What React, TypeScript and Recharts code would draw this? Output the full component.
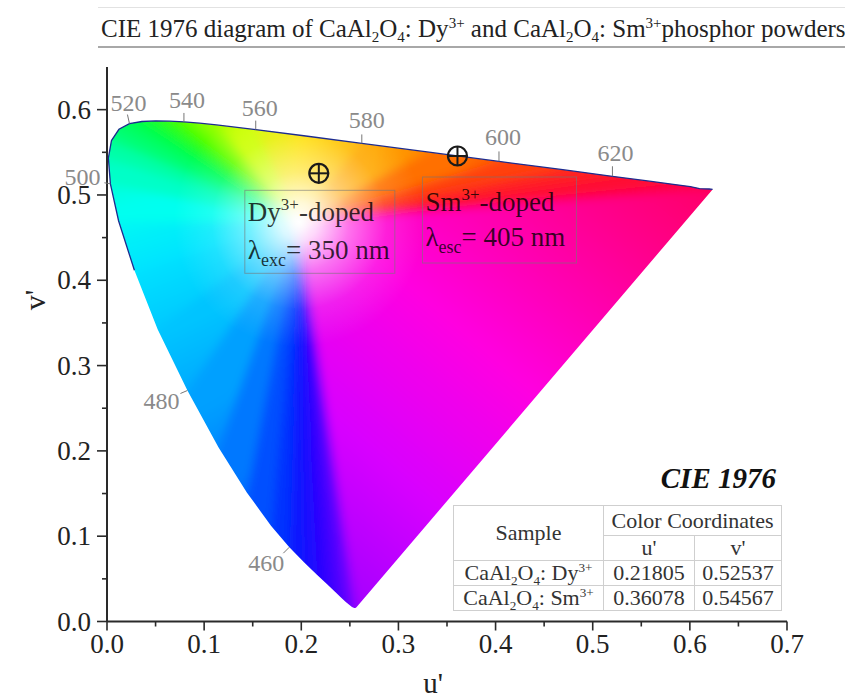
import React from 'react'
import { ScatterChart, Scatter, XAxis, YAxis } from 'recharts'

// CIE 1976 spectral locus (u', v') read along the diagram edge
const WAVELENGTHS = [380, 400, 410, 420, 430, 435, 440, 445, 450, 455, 460, 465, 470, 475, 480, 485, 490, 495, 500, 505, 510, 515, 520, 525, 530, 535, 540, 545, 550, 560, 570, 580, 590, 600, 610, 620, 630, 640, 650, 660, 680, 700]
const U_PRIME = [0.2568, 0.2557, 0.2545, 0.2522, 0.2461, 0.2411, 0.2347, 0.2266, 0.2161, 0.2033, 0.1877, 0.169, 0.1441, 0.1147, 0.0828, 0.0521, 0.0282, 0.0119, 0.0035, 0.0014, 0.0046, 0.0123, 0.0231, 0.036, 0.0501, 0.0643, 0.0792, 0.0953, 0.1127, 0.1531, 0.2026, 0.2623, 0.3315, 0.4035, 0.4692, 0.5203, 0.5565, 0.583, 0.6005, 0.6099, 0.6199, 0.6234]
const V_PRIME = [0.0166, 0.0159, 0.0159, 0.0169, 0.0226, 0.0279, 0.035, 0.0437, 0.0549, 0.0688, 0.0871, 0.1119, 0.151, 0.2044, 0.2708, 0.3427, 0.4117, 0.4698, 0.5131, 0.5432, 0.5638, 0.577, 0.5837, 0.5861, 0.5868, 0.5865, 0.5856, 0.5841, 0.5821, 0.5766, 0.5694, 0.5604, 0.5501, 0.5393, 0.5296, 0.5219, 0.5165, 0.5125, 0.5099, 0.5075, 0.507, 0.5065]
const WHITE_POINT = { u: 0.1978, v: 0.4683 }
const LABELLED = [460, 480, 500, 520, 540, 560, 580, 600, 620]

const SAMPLE_IONS = ['Dy', 'Sm']
const SAMPLE_U = [0.21805, 0.36078]
const SAMPLE_V = [0.52537, 0.54567]
const EXCITATION = [350, 405]
const EXC_SUB = ['exc', 'esc']

const X_TICKS = [0, 0.05, 0.1, 0.15, 0.2, 0.25, 0.3, 0.35, 0.4, 0.45, 0.5, 0.55, 0.6, 0.65, 0.7]
const Y_TICKS = [0, 0.05, 0.1, 0.15, 0.2, 0.25, 0.3, 0.35, 0.4, 0.45, 0.5, 0.55, 0.6]

const locus = WAVELENGTHS.map((wl, i) => ({ wl, u: U_PRIME[i], v: V_PRIME[i] }))
const fillPoints = [...locus, { wl: 0, ...WHITE_POINT }]
const outline = locus.filter((d) => d.wl >= 490)
const labelPoints = locus.filter((d) => LABELLED.includes(d.wl))
const samples = SAMPLE_IONS.map((ion, i) => ({ ion, u: SAMPLE_U[i], v: SAMPLE_V[i], exc: EXCITATION[i], sub: EXC_SUB[i] }))

const SERIF = '"Liberation Serif", "Times New Roman", serif'

// styling
const LOCUS_COLOR: Record<number, string> = {
  380: '#8a00ff', 400: '#8500ff', 410: '#8000ff', 420: '#7800ff', 430: '#6800ff', 435: '#5c00ff', 440: '#4c00ff',
  445: '#3c00ff', 450: '#2c00ff', 455: '#1a08ff', 460: '#0c18ff', 465: '#0030ff', 470: '#0050ff', 475: '#0078ff',
  480: '#00a0ff', 485: '#00c4ff', 490: '#00e4ff', 495: '#00fff0', 500: '#00ffc8', 505: '#00ffa8', 510: '#00ff8c',
  515: '#00ff78', 520: '#00ff64', 525: '#00ff50', 530: '#10ff38', 535: '#28ff20', 540: '#40ff00', 545: '#66ff00',
  550: '#8cff00', 560: '#ccff00', 570: '#ffe000', 580: '#ffa800', 590: '#ff7000', 600: '#ff4010', 610: '#ff2020',
  620: '#ff1030', 630: '#ff0838', 640: '#ff0440', 650: '#ff0044', 660: '#ff0046', 680: '#ff0048', 700: '#ff0048',
}
const PURPLE_STOPS: [number, string][] = [[0, '#ff0048'], [0.25, '#ff0090'], [0.5, '#ff00e0'], [0.72, '#d800ff'], [1, '#8a00ff']]
const WHITE_RADIUS = 125
const SPREAD = 1.25
const BLUR = 5

const LABEL_OFFSET: Record<number, { tx: number; ty: number; lx: number; ly: number }> = {
  460: { tx: -23, ty: 16, lx: -6, ly: 6 },
  480: { tx: -26, ty: 11, lx: -7, ly: 3 },
  500: { tx: -28, ty: -7, lx: -6, ly: -1 },
  520: { tx: -1, ty: -21, lx: -2, ly: -9 },
  540: { tx: 3, ty: -22, lx: 0, ly: -9 },
  560: { tx: 4, ty: -22, lx: 0, ly: -9 },
  580: { tx: 5, ty: -23, lx: 0, ly: -9 },
  600: { tx: 4, ty: -24, lx: 0, ly: -10 },
  620: { tx: 3, ty: -23, lx: 0, ly: -10 },
}

const SAMPLE_BOX: Record<string, { dx: number; dy: number; w: number; h: number; b1: number; b2: number }> = {
  Dy: { dx: -74, dy: 17, w: 150, h: 83, b1: 31, b2: 69 },
  Sm: { dx: -35, dy: 21, w: 154, h: 86, b1: 34, b2: 69 },
}

const isMajor = (v: number) => Math.abs(v * 10 - Math.round(v * 10)) < 1e-6

function renderLocusFill(props: any) {
  const pts: { x: number; y: number }[] = props.points || []
  if (pts.length < 3) return <g />
  const w = pts[pts.length - 1]
  const rim = pts.slice(0, -1)
  // push the fan corners a bit past the edge so the blur stays saturated at the rim
  const far = rim.map((p) => ({ x: w.x + (p.x - w.x) * SPREAD, y: w.y + (p.y - w.y) * SPREAD }))
  const first = far[0]
  const last = far[far.length - 1]
  const poly = rim.map((p) => `${p.x},${p.y}`).join(' ')
  return (
    <g>
      <defs>
        <clipPath id="locus-clip">
          <polygon points={poly} />
        </clipPath>
        <filter id="soften" x="-20%" y="-20%" width="140%" height="140%">
          <feGaussianBlur stdDeviation={BLUR} />
        </filter>
        {far.slice(0, -1).map((p, i) => (
          <linearGradient key={i} id={`seg-${i}`} gradientUnits="userSpaceOnUse" x1={p.x} y1={p.y} x2={far[i + 1].x} y2={far[i + 1].y}>
            <stop offset="0" stopColor={LOCUS_COLOR[WAVELENGTHS[i]]} />
            <stop offset="1" stopColor={LOCUS_COLOR[WAVELENGTHS[i + 1]]} />
          </linearGradient>
        ))}
        <linearGradient id="purple-line" gradientUnits="userSpaceOnUse" x1={last.x} y1={last.y} x2={first.x} y2={first.y}>
          {PURPLE_STOPS.map(([o, c]) => (
            <stop key={o} offset={o} stopColor={c} />
          ))}
        </linearGradient>
        <radialGradient id="white-core" gradientUnits="userSpaceOnUse" cx={w.x} cy={w.y} r={WHITE_RADIUS}>
          <stop offset="0" stopColor="#fff" stopOpacity={1} />
          <stop offset="0.15" stopColor="#fff" stopOpacity={0.85} />
          <stop offset="0.4" stopColor="#fff" stopOpacity={0.45} />
          <stop offset="0.7" stopColor="#fff" stopOpacity={0.12} />
          <stop offset="1" stopColor="#fff" stopOpacity={0} />
        </radialGradient>
      </defs>
      <g clipPath="url(#locus-clip)">
        <g filter="url(#soften)">
          {far.slice(0, -1).map((p, i) => (
            <polygon
              key={i}
              points={`${w.x},${w.y} ${p.x},${p.y} ${far[i + 1].x},${far[i + 1].y}`}
              fill={`url(#seg-${i})`}
              stroke={`url(#seg-${i})`}
              strokeWidth={1}
            />
          ))}
          <polygon
            points={`${w.x},${w.y} ${last.x},${last.y} ${first.x},${first.y}`}
            fill="url(#purple-line)"
            stroke="url(#purple-line)"
            strokeWidth={1}
          />
        </g>
        <circle cx={w.x} cy={w.y} r={WHITE_RADIUS} fill="url(#white-core)" />
      </g>
    </g>
  )
}

const Empty = () => <g />

function WavelengthLabel(props: any) {
  const { cx, cy, payload } = props
  const o = LABEL_OFFSET[payload.wl]
  return (
    <g>
      <line x1={cx} y1={cy} x2={cx + o.lx} y2={cy + o.ly} stroke="#777" strokeWidth={1} />
      <text x={cx + o.tx} y={cy + o.ty} textAnchor="middle" dominantBaseline="central" fontFamily={SERIF} fontSize={24} fill="#8a8a8a">
        {payload.wl}
      </text>
    </g>
  )
}

function SampleMarker(props: any) {
  const { cx, cy, payload } = props
  const b = SAMPLE_BOX[payload.ion]
  const r = 9.5
  const left = cx + b.dx
  const top = cy + b.dy
  return (
    <g>
      <circle cx={cx} cy={cy} r={r} fill="none" stroke="#1a1a1a" strokeWidth={2.2} />
      <line x1={cx - r} x2={cx + r} y1={cy} y2={cy} stroke="#1a1a1a" strokeWidth={2} />
      <line x1={cx} x2={cx} y1={cy - r} y2={cy + r} stroke="#1a1a1a" strokeWidth={2} />
      <rect x={left} y={top} width={b.w} height={b.h} fill="none" stroke="#777" strokeOpacity={0.6} strokeWidth={1} />
      <text x={left + 3} y={top + b.b1} fontFamily={SERIF} fontSize={27} fill="#000" fillOpacity={0.78}>
        <tspan>{payload.ion}</tspan>
        <tspan dy={-11} fontSize={17}>3+</tspan>
        <tspan dy={11}>-doped</tspan>
      </text>
      <text x={left + 3} y={top + b.b2} fontFamily={SERIF} fontSize={27} fill="#000" fillOpacity={0.78}>
        <tspan>λ</tspan>
        <tspan dy={7} fontSize={18}>{payload.sub}</tspan>
        <tspan dy={-7}>= {payload.exc} nm</tspan>
      </text>
    </g>
  )
}

const Y_TICK_SIZE = 10
const Y_TICK_MARGIN = 6
const X_TICK_SIZE = 9
const X_TICK_MARGIN = 3

function YTick(props: any) {
  const { x, y, payload } = props
  const major = isMajor(payload.value)
  const ax = x + Y_TICK_SIZE + Y_TICK_MARGIN
  return (
    <g>
      <line x1={ax} x2={ax - (major ? 10 : 5)} y1={y} y2={y} stroke="#2a2a2a" strokeWidth={1.6} />
      {major && (
        <text x={x} y={y} textAnchor="end" dominantBaseline="central" fontFamily={SERIF} fontSize={27} fill="#222">
          {payload.value.toFixed(1)}
        </text>
      )}
    </g>
  )
}

function XTick(props: any) {
  const { x, y, payload } = props
  const major = isMajor(payload.value)
  const ay = y - X_TICK_SIZE - X_TICK_MARGIN
  return (
    <g>
      <line x1={x} x2={x} y1={ay} y2={ay + (major ? 9 : 5)} stroke="#2a2a2a" strokeWidth={1.6} />
      {major && (
        <text x={x} y={y} dy="0.72em" textAnchor="middle" fontFamily={SERIF} fontSize={27} fill="#222">
          {payload.value.toFixed(1)}
        </text>
      )}
    </g>
  )
}

const subStyle: React.CSSProperties = { fontSize: '0.6em', lineHeight: 0, verticalAlign: '-0.35em' }
const supStyle: React.CSSProperties = { fontSize: '0.6em', lineHeight: 0, verticalAlign: '0.6em' }

function Formula({ ion }: { ion: string }) {
  return (
    <>
      CaAl<span style={subStyle}>2</span>O<span style={subStyle}>4</span>: {ion}
      <span style={supStyle}>3+</span>
    </>
  )
}

const cell: React.CSSProperties = { border: '1px solid #cfcfcf', padding: 0, textAlign: 'center', lineHeight: '22px' }

export default function App() {
  return (
    <div style={{ position: 'absolute', left: 0, top: 0, width: 845, height: 698, background: '#fff', fontFamily: SERIF }}>
      <ScatterChart width={845} height={698} margin={{ top: 67, right: 58, bottom: 0, left: 0 }}>
        <XAxis
          type="number"
          dataKey="u"
          domain={[0, 0.7]}
          ticks={X_TICKS}
          interval={0}
          height={76.5}
          tickSize={X_TICK_SIZE}
          tickMargin={X_TICK_MARGIN}
          tickLine={false}
          tick={<XTick />}
          axisLine={{ stroke: '#2a2a2a', strokeWidth: 2 }}
        />
        <YAxis
          type="number"
          dataKey="v"
          domain={[0, 0.65]}
          ticks={Y_TICKS}
          interval={0}
          width={107}
          tickSize={Y_TICK_SIZE}
          tickMargin={Y_TICK_MARGIN}
          tickLine={false}
          tick={<YTick />}
          axisLine={{ stroke: '#2a2a2a', strokeWidth: 2 }}
        />
        <Scatter data={fillPoints} shape={Empty} line={renderLocusFill} isAnimationActive={false} />
        <Scatter data={outline} shape={Empty} line={{ stroke: '#1d2b8f', strokeWidth: 1.3, fill: 'none' }} isAnimationActive={false} />
        <Scatter data={labelPoints} shape={(p: any) => <WavelengthLabel {...p} />} isAnimationActive={false} />
        <Scatter data={samples} shape={(p: any) => <SampleMarker {...p} />} isAnimationActive={false} />
      </ScatterChart>

      <div
        style={{
          position: 'absolute', left: 98, top: 7, width: 747, height: 41,
          borderTop: '1px solid #e2e2e2', borderBottom: '2px solid #a8a8a8',
          fontSize: 25, lineHeight: '41px', paddingLeft: 3, whiteSpace: 'nowrap', color: '#222', boxSizing: 'border-box',
        }}
      >
        CIE 1976 diagram of <Formula ion="Dy" /> and <Formula ion="Sm" />phosphor powders
      </div>

      <div style={{ position: 'absolute', left: 35, top: 300, transform: 'translate(-50%, -50%) rotate(-90deg)', fontSize: 30, color: '#222' }}>
        v'
      </div>
      <div style={{ position: 'absolute', left: 433, top: 683, transform: 'translate(-50%, -50%)', fontSize: 29, color: '#222' }}>
        u'
      </div>

      <div style={{ position: 'absolute', right: 845 - 776, top: 462, fontSize: 29, fontWeight: 'bold', fontStyle: 'italic', color: '#111' }}>
        CIE 1976
      </div>
      <table
        style={{
          position: 'absolute', left: 453, top: 505, width: 328, borderCollapse: 'collapse',
          fontSize: 22, color: '#333', background: '#fff', tableLayout: 'fixed',
        }}
      >
        <colgroup>
          <col style={{ width: 150 }} />
          <col style={{ width: 91 }} />
          <col style={{ width: 87 }} />
        </colgroup>
        <tbody>
          <tr style={{ height: 30 }}>
            <td rowSpan={2} style={cell}>Sample</td>
            <td colSpan={2} style={cell}>Color Coordinates</td>
          </tr>
          <tr style={{ height: 25 }}>
            <td style={cell}>u'</td>
            <td style={cell}>v'</td>
          </tr>
          {samples.map((s) => (
            <tr key={s.ion} style={{ height: 25 }}>
              <td style={{ ...cell, whiteSpace: 'nowrap' }}>
                <Formula ion={s.ion} />
              </td>
              <td style={cell}>{s.u.toFixed(5)}</td>
              <td style={cell}>{s.v.toFixed(5)}</td>
            </tr>
          ))}
        </tbody>
      </table>
    </div>
  )
}
